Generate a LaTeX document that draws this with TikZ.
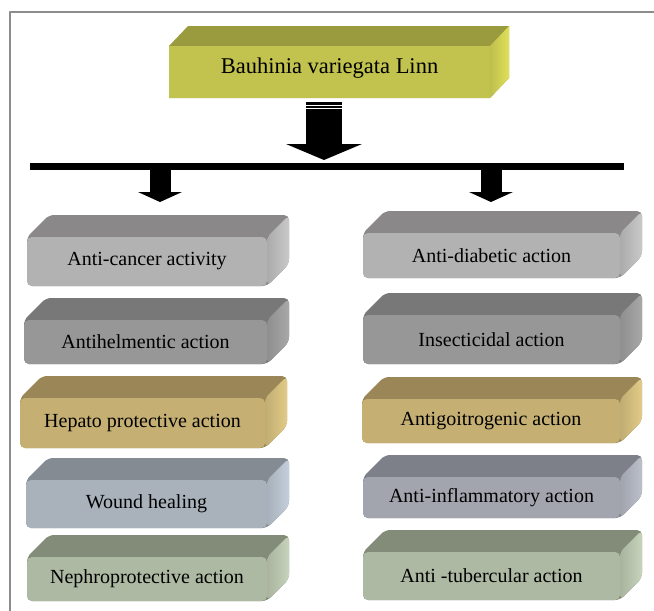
\documentclass[tikz,border=0pt]{standalone}
\usepackage{fontspec}
\setmainfont{Liberation Serif}
\usetikzlibrary{arrows.meta}
% face colours: F front, T top, S side
\definecolor{olvF}{HTML}{C2C24E}\definecolor{olvT}{HTML}{9A9A3E}\definecolor{olvS}{HTML}{E0E05A}
\definecolor{lgF}{HTML}{B2B2B2}\definecolor{lgT}{HTML}{8A8888}\definecolor{lgS}{HTML}{C9C9C9}
\definecolor{dgF}{HTML}{979797}\definecolor{dgT}{HTML}{787878}\definecolor{dgS}{HTML}{A8A8A8}
\definecolor{tanF}{HTML}{C5AF72}\definecolor{tanT}{HTML}{9A8656}\definecolor{tanS}{HTML}{E2CB87}
\definecolor{bluF}{HTML}{A9B1BB}\definecolor{bluT}{HTML}{858B93}\definecolor{bluS}{HTML}{C4CFDB}
\definecolor{slaF}{HTML}{A2A5AE}\definecolor{slaT}{HTML}{7D8088}\definecolor{slaS}{HTML}{BCC0CB}
\definecolor{sagF}{HTML}{ADB9A2}\definecolor{sagT}{HTML}{838C78}\definecolor{sagS}{HTML}{C7D3BB}
\tikzset{
  face/.style={rounded corners=5pt},
  bigarr/.style={line cap=butt, line width=36pt, -{Triangle[width=76pt,length=16pt,line width=0pt]}},
  smallarr/.style={line cap=butt, line width=21pt, -{Triangle[width=44pt,length=10pt,line width=0pt]}}
}
\begin{document}
\begin{tikzpicture}[x=1pt,y=-1pt,line cap=round,line join=round,font=\fontsize{20}{24}\selectfont]
\useasboundingbox (0,0) rectangle (654,611);
\draw[black!45,line width=1.2pt,line cap=butt] (654,12) -| (10,611);
% plant box
\fill[olvT] (169,98) -- (169,46) -- (188,26) -- (509,26) -- (509,78) -- (490,98) -- cycle;
\shade[left color=olvS!85!black,right color=olvS] (490,46) -- (509,26) -- (509,78) -- (490,98) -- cycle;
\node[fill=olvF,minimum width=321pt,minimum height=52pt,inner sep=0pt,text depth=13pt,font=\fontsize{22.5}{26}\selectfont] (plant) at (329.5,72) {Bauhinia variegata Linn};
% bar and arrows
\path (324,102) coordinate (a0) (324,160) coordinate (a1)
      (30,166.5) coordinate (b0) (624,166.5) coordinate (b1)
      (160,170) coordinate (l0) (160,202) coordinate (l1)
      (491,170) coordinate (r0) (491,202) coordinate (r1);
\draw[bigarr] (a0) -- (a1);
\draw[white,line width=.7pt,line cap=butt] (306,105) -- (342,105) (306,108.5) -- (342,108.5);
\draw[line width=7pt,line cap=butt] (b0) -- (b1);
\draw[smallarr] (l0) -- (l1);
\draw[smallarr] (r0) -- (r1);
% action boxes
\foreach \nm/\xa/\ya/\xb/\yb/\col/\txt in {
  ac/27/237/267/286/lg/Anti-cancer activity,
  ah/24/320/267/364/dg/Antihelmentic action,
  hp/20/398/265/448/tan/Hepato protective action,
  wh/26/480/267/528/blu/Wound healing,
  np/27/557/267/601/sag/Nephroprotective action,
  ad/363/233/620/278/lg/Anti-diabetic action,
  is/363/315/620/364/dg/Insecticidal action,
  ag/362/399/620/443/tan/Antigoitrogenic action,
  ai/363/477/620/518/sla/Anti-inflammatory action,
  at/363/552/620/600/sag/Anti -tubercular action}{
  \fill[\col T,face] (\xa,\yb) -- (\xa,\ya) -- ({\xa+22},{\ya-22}) -- ({\xb+22},{\ya-22}) -- ({\xb+22},{\yb-22}) -- (\xb,\yb) -- cycle;
  \shade[face,left color=\col S!85!black,right color=\col S] (\xb,\ya) -- ({\xb+22},{\ya-22}) -- ({\xb+22},{\yb-22}) -- (\xb,\yb) -- cycle;
  \node[face,fill=\col F,minimum width={(\xb-\xa)*1pt},minimum height={(\yb-\ya)*1pt},inner sep=0pt] (\nm) at ({(\xa+\xb)/2},{(\ya+\yb)/2}) {\txt};
}
\end{tikzpicture}
\end{document}
